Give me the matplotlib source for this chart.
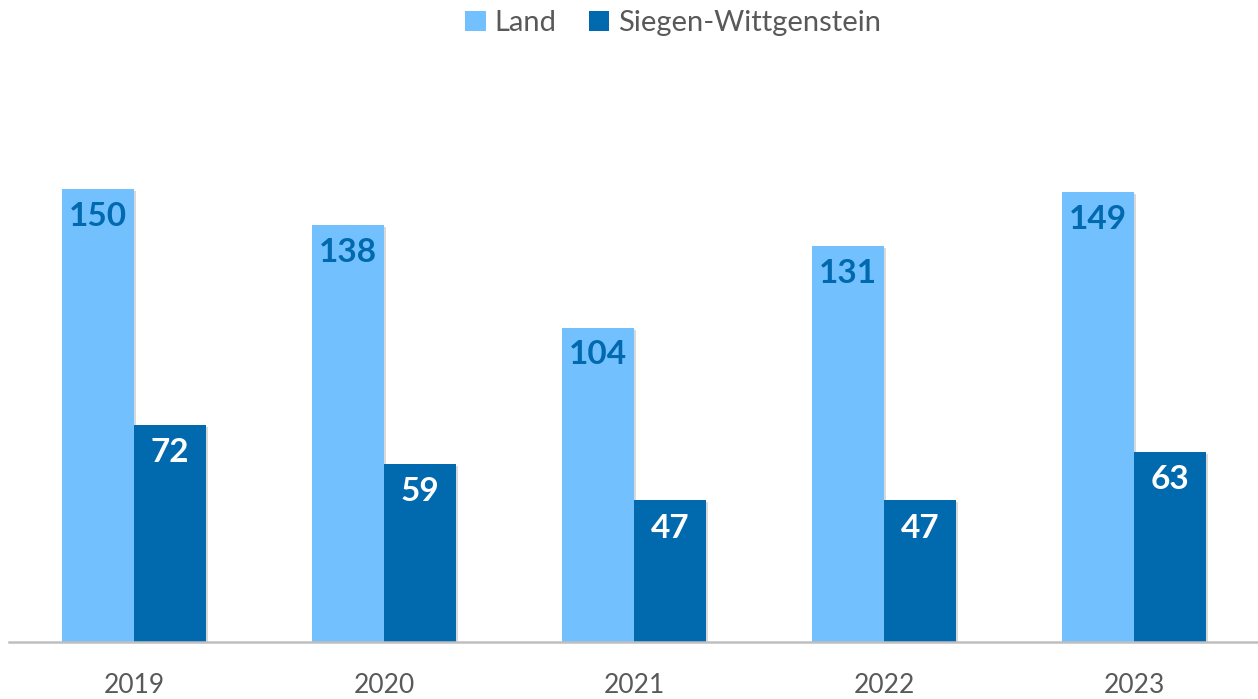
import matplotlib
matplotlib.use("Agg")
import matplotlib.pyplot as plt
import matplotlib.patheffects as pe
from matplotlib.patches import Patch
import numpy as np

years = ["2019", "2020", "2021", "2022", "2023"]
land = [150, 138, 104, 131, 149]
siegen = [72, 59, 47, 47, 63]
series_names = ["Land", "Siegen-Wittgenstein"]

c_land = "#73C0FF"
c_sw = "#0169AE"
txt_gray = "#595959"
font = "Lato"

fig = plt.figure(figsize=(12.58, 6.99), dpi=100)
ax = fig.add_axes([9/1258, 57/699, 1250/1258, 604/699])

x = np.arange(len(years))
w = 0.288
shadow = [pe.SimplePatchShadow(offset=(1.5, -1.5), shadow_rgbFace="#000000", alpha=0.15), pe.Normal()]
b1 = ax.bar(x - w/2, land, w, color=c_land, label=series_names[0], zorder=2)
b2 = ax.bar(x + w/2, siegen, w, color=c_sw, label=series_names[1], zorder=2)
for b in list(b1) + list(b2):
    b.set_path_effects(shadow)

for xi, v in zip(x - w/2, land):
    ax.annotate(str(v), (xi, v), xytext=(0, -27), textcoords="offset pixels",
                ha="center", va="center", fontsize=24, fontweight="bold", color=c_sw, family=font, zorder=3)
for xi, v in zip(x + w/2, siegen):
    ax.annotate(str(v), (xi, v), xytext=(0, -28), textcoords="offset pixels",
                ha="center", va="center", fontsize=24, fontweight="bold", color="white", family=font, zorder=3)

ax.set_xlim(-0.5, 4.5)
ax.set_ylim(0, 200)
ax.set_xticks(x)
ax.set_xticklabels(years, fontsize=19, color=txt_gray, family=font)
ax.tick_params(axis="x", length=0, pad=22)
ax.set_yticks([])
for s in ["top", "right", "left"]:
    ax.spines[s].set_visible(False)
ax.spines["bottom"].set_color("#BFBFBF")
ax.spines["bottom"].set_linewidth(1.8)
ax.spines["bottom"].set_zorder(3)

handles = [Patch(facecolor=c_land), Patch(facecolor=c_sw)]
fig.legend(handles, series_names, loc="center", bbox_to_anchor=(0.535, 1 - 23/699), ncol=2,
           frameon=False, prop={"family": font, "size": 21}, labelcolor=txt_gray,
           handlelength=0.7, handleheight=0.7, handletextpad=0.3, columnspacing=1.1)

fig.savefig("out.png", dpi=100)
